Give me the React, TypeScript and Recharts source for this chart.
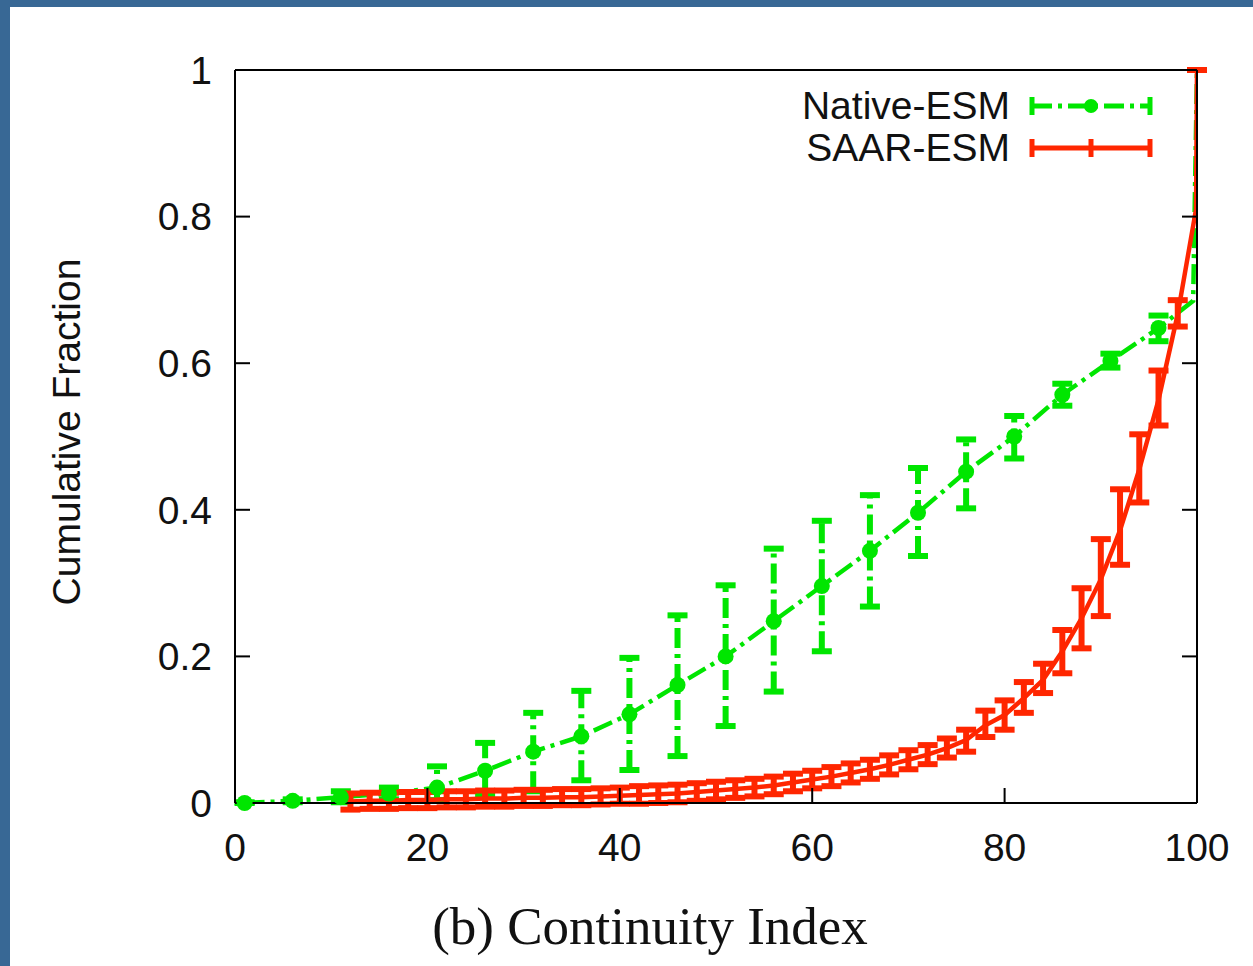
import React from "react";
import { LineChart, Line, XAxis, YAxis, ErrorBar, Legend } from "recharts";

const GREEN = "#00e600";
const RED = "#ff2600";
const BLUE = "#386895";
const SANS = "'Liberation Sans', Arial, sans-serif";
const SERIF = "'Liberation Serif', 'Times New Roman', serif";

const xTicks = [0, 20, 40, 60, 80, 100];
const yTicks = [0, 0.2, 0.4, 0.6, 0.8, 1];

// Native-ESM: value plus lower / upper end of the error bar (null = no bar drawn)
const nativeX = [1, 6, 11, 16, 21, 26, 31, 36, 41, 46, 51, 56, 61, 66, 71, 76, 81, 86, 91, 96, 99.6, 100];
const nativeY = [0, 0.003, 0.008, 0.013, 0.021, 0.044, 0.07, 0.091, 0.121, 0.161, 0.2, 0.248, 0.296, 0.344, 0.396, 0.452, 0.5, 0.557, 0.603, 0.648, 0.685, 1];
const nativeLo = [0, 0.001, 0.001, 0.005, 0.004, 0.012, 0.016, 0.031, 0.045, 0.064, 0.105, 0.152, 0.207, 0.268, 0.337, 0.402, 0.47, 0.542, 0.594, 0.63, null, null];
const nativeHi = [0.001, 0.005, 0.016, 0.021, 0.05, 0.082, 0.123, 0.153, 0.198, 0.256, 0.297, 0.347, 0.385, 0.42, 0.457, 0.496, 0.528, 0.572, 0.613, 0.665, null, null];

// SAAR-ESM
const saarX = [12, 14, 16, 18, 20, 22, 24, 26, 28, 30, 32, 34, 36, 38, 40, 42, 44, 46, 48, 50, 52, 54, 56, 58, 60, 62, 64, 66, 68, 70, 72, 74, 76, 78, 80, 82, 84, 86, 88, 90, 92, 94, 96, 98, 99.9, 100];
const saarY = [0.002, 0.003, 0.003, 0.004, 0.004, 0.005, 0.005, 0.006, 0.006, 0.007, 0.007, 0.008, 0.008, 0.009, 0.01, 0.011, 0.012, 0.013, 0.015, 0.017, 0.019, 0.021, 0.024, 0.028, 0.032, 0.036, 0.041, 0.046, 0.052, 0.059, 0.066, 0.075, 0.086, 0.106, 0.12, 0.143, 0.168, 0.207, 0.252, 0.305, 0.372, 0.455, 0.55, 0.667, 0.81, 1];
const saarLo = [-0.009, -0.008, -0.008, -0.007, -0.007, -0.006, -0.006, -0.005, -0.005, -0.004, -0.004, -0.003, -0.003, -0.002, -0.001, -0.001, 0, 0.001, 0.003, 0.005, 0.007, 0.009, 0.012, 0.016, 0.02, 0.023, 0.028, 0.033, 0.039, 0.046, 0.053, 0.062, 0.07, 0.09, 0.1, 0.123, 0.15, 0.177, 0.211, 0.255, 0.325, 0.41, 0.515, 0.65, null, 1];
const saarHi = [0.013, 0.014, 0.014, 0.015, 0.015, 0.016, 0.016, 0.017, 0.017, 0.018, 0.018, 0.019, 0.019, 0.02, 0.021, 0.023, 0.024, 0.025, 0.027, 0.029, 0.031, 0.033, 0.036, 0.04, 0.044, 0.049, 0.054, 0.059, 0.065, 0.072, 0.079, 0.088, 0.1, 0.126, 0.14, 0.165, 0.19, 0.236, 0.293, 0.36, 0.428, 0.503, 0.59, 0.686, null, 1];

const toRows = (xs: number[], ys: number[], lo: (number | null)[], hi: (number | null)[]) =>
  xs.map((x, i) => ({
    x,
    y: ys[i],
    err: lo[i] == null || hi[i] == null ? null : [ys[i] - (lo[i] as number), (hi[i] as number) - ys[i]],
  }));

const nativeRows = toRows(nativeX, nativeY, nativeLo, nativeHi);
const nativeMarks = nativeRows.filter((r) => r.err != null);
const saarRows = toRows(saarX, saarY, saarLo, saarHi);

const renderLegend = (props: any) => {
  const items = (props.payload || []).filter((e: any) => e.value === "Native-ESM" || e.value === "SAAR-ESM");
  return (
    <div>
      {items.map((entry: any) => {
        const dashed = entry.value === "Native-ESM";
        const color = dashed ? GREEN : RED;
        return (
          <div key={entry.value} style={{ display: "flex", alignItems: "center", height: 42 }}>
            <span
              style={{
                width: 230,
                textAlign: "right",
                fontFamily: SANS,
                fontSize: 39,
                lineHeight: "42px",
                color: "#111",
                whiteSpace: "nowrap",
              }}
            >
              {entry.value}
            </span>
            <svg width={150} height={42} style={{ display: "block" }}>
              <line x1={22} y1={21} x2={140} y2={21} stroke={color} strokeWidth={5} strokeDasharray={dashed ? "20 6 4 6" : undefined} />
              <line x1={22} y1={12} x2={22} y2={30} stroke={color} strokeWidth={5} />
              <line x1={140} y1={12} x2={140} y2={30} stroke={color} strokeWidth={5} />
              {dashed ? (
                <circle cx={81} cy={21} r={7} fill={color} />
              ) : (
                <line x1={81} y1={12} x2={81} y2={30} stroke={color} strokeWidth={5} />
              )}
            </svg>
          </div>
        );
      })}
    </div>
  );
};

const axisStroke = { stroke: "#000", strokeWidth: 2 };
const tickFont = { fontSize: 39, fill: "#111", fontFamily: SANS };

export default function App() {
  return (
    <div style={{ position: "absolute", left: 0, top: 0, width: 1253, height: 966, background: "#fff", overflow: "hidden" }}>
      <LineChart width={1253} height={966} margin={{ top: 69, right: 55, bottom: 103, left: 155 }}>
        <XAxis
          dataKey="x" type="number" domain={[0, 100]} ticks={xTicks} interval={0}
          height={60} tickSize={-15} tickMargin={45} allowDataOverflow
          axisLine={axisStroke} tickLine={axisStroke} tick={tickFont}
        />
        <XAxis
          xAxisId="top" orientation="top" type="number" domain={[0, 100]} ticks={xTicks} interval={0}
          height={1} tickSize={-15} allowDataOverflow tickFormatter={() => ""}
          axisLine={axisStroke} tickLine={axisStroke}
        />
        <YAxis
          type="number" domain={[0, 1]} ticks={yTicks} interval={0}
          width={80} tickSize={-15} tickMargin={38} allowDataOverflow
          axisLine={axisStroke} tickLine={axisStroke} tick={tickFont}
        />
        <YAxis
          yAxisId="right" orientation="right" type="number" domain={[0, 1]} ticks={yTicks} interval={0}
          width={1} tickSize={-15} allowDataOverflow tickFormatter={() => ""}
          axisLine={axisStroke} tickLine={axisStroke}
        />
        <Legend
          layout="vertical" align="center" verticalAlign="middle"
          wrapperStyle={{ left: 780, top: 85, width: 380, height: 84 }}
          content={renderLegend}
        />
        <Line
          data={nativeRows} dataKey="y" name="Native-ESM" type="linear"
          stroke={GREEN} strokeWidth={4.5} strokeDasharray="20 6 4 6"
          dot={false} activeDot={false} isAnimationActive={false}
        >
          <ErrorBar dataKey="err" direction="y" width={10} stroke={GREEN} strokeWidth={6} strokeDasharray="20 6 4 6" isAnimationActive={false} />
        </Line>
        <Line
          data={nativeMarks} dataKey="y" name="native-points" type="linear"
          stroke="none" legendType="none"
          dot={{ r: 8, fill: GREEN, stroke: GREEN, strokeWidth: 0, clipDot: false }}
          activeDot={false} isAnimationActive={false}
        />
        <Line
          data={saarRows} dataKey="y" name="SAAR-ESM" type="linear"
          stroke={RED} strokeWidth={4.5}
          dot={false} activeDot={false} isAnimationActive={false}
        >
          <ErrorBar dataKey="err" direction="y" width={10} stroke={RED} strokeWidth={6} isAnimationActive={false} />
        </Line>
      </LineChart>

      <div
        style={{
          position: "absolute", left: 67, top: 432,
          transform: "translate(-50%, -50%) rotate(-90deg)",
          fontFamily: SANS, fontSize: 39, color: "#111", whiteSpace: "nowrap",
        }}
      >
        Cumulative Fraction
      </div>
      <div
        style={{
          position: "absolute", left: 650, top: 926,
          transform: "translate(-50%, -50%)",
          fontFamily: SERIF, fontSize: 53, color: "#111", whiteSpace: "nowrap",
        }}
      >
        (b) Continuity Index
      </div>

      <div style={{ position: "absolute", left: 0, top: 0, width: 1253, height: 7, background: BLUE }} />
      <div style={{ position: "absolute", left: 0, top: 0, width: 10, height: 966, background: BLUE }} />
    </div>
  );
}
